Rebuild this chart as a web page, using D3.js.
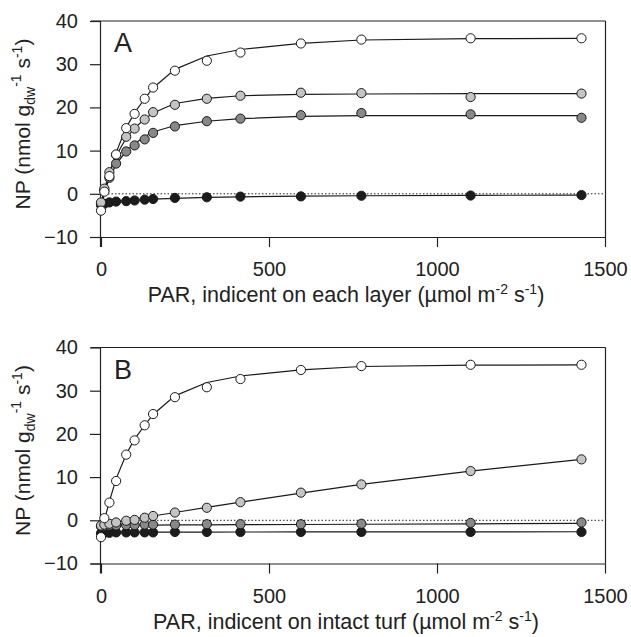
<!DOCTYPE html>
<html>
<head>
<meta charset="utf-8">
<script src="https://cdn.jsdelivr.net/npm/d3@7"></script>
<style>
  body { margin: 0; background: #fff; }
  svg text { font-family: "Liberation Sans", Arial, sans-serif; fill: #222; }
</style>
</head>
<body>
<script>
// PAR levels (umol m-2 s-1)
const par = [0, 10, 25, 45, 75, 100, 130, 155, 220, 315, 415, 595, 775, 1100, 1430];

// top layer (white) - same in both panels
const whitePts = [-3.9, 0.5, 4.1, 9.1, 15.2, 18.5, 22.0, 24.6, 28.5, 30.8, 32.7, 34.8, 35.7, 36.0, 36.0];
const whiteFit = [-3.5, 0.0, 4.4, 9.6, 15.3, 18.8, 22.0, 24.5, 28.8, 31.9, 33.4, 34.8, 35.6, 35.9, 36.0];

// panel A
const aLight = [-2.0, 1.2, 5.0, 9.0, 13.2, 15.1, 17.2, 18.9, 20.6, 22.0, 22.7, 23.4, 23.3, 22.4, 23.2];
const aLightFit = [-2.3, 1.0, 4.8, 8.8, 12.9, 15.2, 17.3, 18.7, 20.9, 22.1, 22.7, 23.0, 23.1, 23.2, 23.2];
const aDark = [-2.3, 0.8, 3.7, 7.0, 9.8, 11.2, 12.6, 14.1, 15.6, 16.8, 17.4, 18.2, 18.7, 18.4, 17.6];
const aDarkFit = [-2.4, 0.5, 3.6, 6.8, 9.9, 11.6, 13.2, 14.3, 15.8, 16.8, 17.4, 17.9, 18.1, 18.1, 18.1];
const aBlack = [-2.6, -2.3, -2.0, -1.8, -1.7, -1.55, -1.35, -1.2, -0.95, -0.8, -0.65, -0.6, -0.45, -0.4, -0.3];
const aBlackFit = [-2.6, -2.3, -2.0, -1.8, -1.6, -1.5, -1.35, -1.25, -1.05, -0.85, -0.7, -0.55, -0.45, -0.35, -0.3];

// panel B
const bLight = [-1.2, -1.0, -0.8, -0.5, -0.1, 0.1, 0.6, 1.0, 1.8, 2.9, 4.2, 6.4, 8.3, 11.4, 14.1];
const bLightFit = [-1.0, -0.85, -0.65, -0.4, 0.0, 0.3, 0.7, 1.0, 1.8, 3.0, 4.2, 6.3, 8.3, 11.4, 14.1];
const bDark = [-1.4, -1.3, -1.2, -1.2, -1.1, -1.1, -1.0, -1.0, -1.0, -0.9, -0.9, -0.9, -0.8, -0.6, -0.5];
const bDarkFit = [-1.15, -1.15, -1.14, -1.13, -1.12, -1.11, -1.1, -1.1, -1.08, -1.05, -1.02, -0.97, -0.92, -0.82, -0.72];
const bBlack = [-3.0, -2.9, -2.9, -2.8, -2.8, -2.8, -2.8, -2.8, -2.7, -2.7, -2.7, -2.7, -2.7, -2.7, -2.7];
const bBlackFit = [-2.75, -2.75, -2.75, -2.75, -2.75, -2.74, -2.74, -2.74, -2.73, -2.72, -2.71, -2.7, -2.69, -2.67, -2.65];

const xTicks = [0, 500, 1000, 1500];
const yTicks = [-10, 0, 10, 20, 30, 40];

const fills = { black: "#1c1c1c", dark: "#888888", light: "#c4c4c4", white: "#ffffff" };

const width = 631, height = 637;
const svg = d3.select("body").append("svg")
    .attr("width", width)
    .attr("height", height);

const x = d3.scaleLinear().domain([0, 1500]).range([101, 605]);

function drawPanel(top, letter, xTitle, series) {
    const bottom = top + 216;
    const y = d3.scaleLinear().domain([-10, 40]).range([bottom, top]);
    const g = svg.append("g");

    // frame top / right
    g.append("line").attr("x1", 91).attr("x2", 605.5).attr("y1", top).attr("y2", top)
        .attr("stroke", "#222").attr("stroke-width", 1.2);
    g.append("line").attr("x1", 605.5).attr("x2", 605.5).attr("y1", top).attr("y2", bottom)
        .attr("stroke", "#222").attr("stroke-width", 1.2);

    const xAxis = g.append("g")
        .attr("transform", "translate(0," + bottom + ")")
        .call(d3.axisBottom(x).tickValues(xTicks).tickFormat(d3.format("d"))
            .tickSize(10).tickPadding(15).tickSizeOuter(0));
    const yAxis = g.append("g")
        .attr("transform", "translate(100,0)")
        .call(d3.axisLeft(y).tickValues(yTicks).tickFormat(d3.format("d"))
            .tickSize(10).tickPadding(12).tickSizeOuter(0));
    [xAxis, yAxis].forEach(a => {
        a.select(".domain").attr("stroke", "#222").attr("stroke-width", 1.2);
        a.selectAll(".tick line").attr("stroke", "#222").attr("stroke-width", 1.2);
        a.selectAll(".tick text").attr("font-size", 20).attr("fill", "#222")
            .attr("font-family", "Liberation Sans, Arial, sans-serif");
    });
    xAxis.select(".domain").attr("d", "M91,0.5H605.5");
    yAxis.select(".domain").attr("d", "M0.5," + top + "V" + (bottom + 10));

    // zero line
    g.append("line")
        .attr("x1", 101).attr("x2", 605).attr("y1", y(0)).attr("y2", y(0))
        .attr("stroke", "#222").attr("stroke-width", 1).attr("stroke-dasharray", "1.5,2");

    const line = d3.line().x((d, i) => x(par[i])).y(d => y(d));

    series.forEach(s => {
        g.append("path")
            .attr("d", line(s.fit))
            .attr("fill", "none")
            .attr("stroke", "#1a1a1a")
            .attr("stroke-width", 1.2);
    });
    series.forEach(s => {
        g.selectAll(null)
            .data(s.pts)
            .enter().append("circle")
            .attr("cx", (d, i) => x(par[i]))
            .attr("cy", d => y(d))
            .attr("r", 4.6)
            .attr("fill", s.fill)
            .attr("stroke", "#1a1a1a")
            .attr("stroke-width", 1);
    });

    g.append("text")
        .attr("x", 114).attr("y", top + 31)
        .attr("font-size", 27)
        .text(letter);

    // x title
    const xt = g.append("text")
        .attr("x", 346).attr("y", bottom + 65)
        .attr("text-anchor", "middle")
        .attr("font-size", 21.5);
    xt.append("tspan").text(xTitle + " (\u00b5mol m");
    xt.append("tspan").attr("font-size", 14).attr("dy", -8).text("-2");
    xt.append("tspan").attr("dy", 8).text(" s");
    xt.append("tspan").attr("font-size", 14).attr("dy", -8).text("-1");
    xt.append("tspan").attr("dy", 8).text(")");

    // y title
    const yt = g.append("text")
        .attr("transform", "translate(30," + (top + 103) + ") rotate(-90)")
        .attr("text-anchor", "middle")
        .attr("font-size", 21);
    yt.append("tspan").text("NP (nmol g");
    yt.append("tspan").attr("font-size", 14).attr("dy", 5).text("dw");
    yt.append("tspan").attr("font-size", 14).attr("dy", -14).text("-1");
    yt.append("tspan").attr("dy", 9).text(" s");
    yt.append("tspan").attr("font-size", 14).attr("dy", -8).text("-1");
    yt.append("tspan").attr("dy", 8).text(")");
}

drawPanel(21, "A", "PAR, indicent on each layer", [
    { pts: aBlack, fit: aBlackFit, fill: fills.black },
    { pts: aDark, fit: aDarkFit, fill: fills.dark },
    { pts: aLight, fit: aLightFit, fill: fills.light },
    { pts: whitePts, fit: whiteFit, fill: fills.white }
]);

drawPanel(347.5, "B", "PAR, indicent on intact turf", [
    { pts: bBlack, fit: bBlackFit, fill: fills.black },
    { pts: bDark, fit: bDarkFit, fill: fills.dark },
    { pts: bLight, fit: bLightFit, fill: fills.light },
    { pts: whitePts, fit: whiteFit, fill: fills.white }
]);
</script>
</body>
</html>
